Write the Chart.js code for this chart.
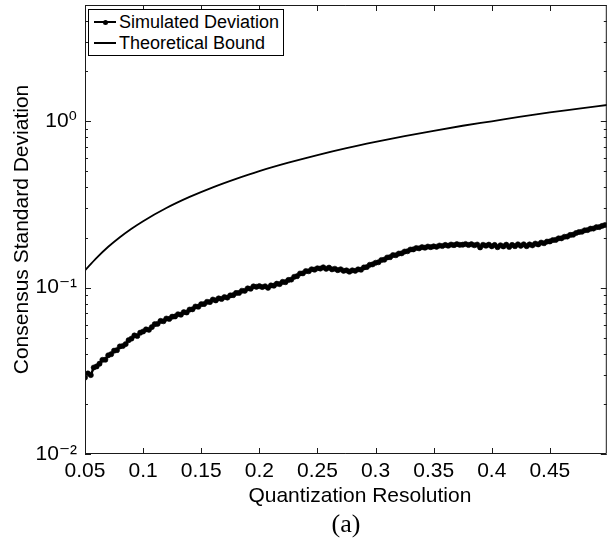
<!DOCTYPE html>
<html>
<head>
<meta charset="utf-8">
<script src="https://cdn.jsdelivr.net/npm/chart.js@4/dist/chart.umd.min.js"></script>
<style>
html,body{margin:0;padding:0;background:#fff;}
#wrap{position:relative;width:610px;height:548px;}
#legend{position:absolute;left:88px;top:9px;width:194px;height:45px;border:1px solid #000;background:#fff;font-family:'Liberation Sans',Arial,sans-serif;font-size:18px;color:#000;}
.item{position:absolute;left:0;width:194px;height:20px;}
.swatch{position:absolute;left:5px;width:22px;top:9px;height:0;border-top:2px solid #000;}
.dot{position:absolute;left:13.5px;top:7.5px;width:5px;height:5px;border-radius:50%;background:#000;}
.lbl{position:absolute;left:30px;top:0;line-height:20px;white-space:nowrap;}
</style>
</head>
<body>
<div id="wrap">
<canvas id="c" width="610" height="548"></canvas>
<div id="legend">
  <div class="item" style="top:2px"><div class="swatch"></div><div class="dot"></div><div class="lbl">Simulated Deviation</div></div>
  <div class="item" style="top:23.3px"><div class="swatch"></div><div class="lbl">Theoretical Bound</div></div>
</div>
</div>
<script>
// ---- data ----
const seriesNames = ['Simulated Deviation', 'Theoretical Bound'];
const simXStart = 0.05;
const simXStep = 0.0025;
const simValues = [
  0.0288, 0.0305, 0.0298, 0.0331, 0.0336, 0.0349, 0.0368, 0.0369, 0.0392, 0.0398,
  0.0418, 0.0421, 0.0443, 0.0446, 0.0458, 0.0483, 0.0494, 0.0516, 0.0512, 0.0536,
  0.0545, 0.0561, 0.0558, 0.0579, 0.0603, 0.0606, 0.0631, 0.0628, 0.0652, 0.0649,
  0.0669, 0.0671, 0.0692, 0.0688, 0.0712, 0.0709, 0.0738, 0.0741, 0.0770, 0.0768,
  0.0795, 0.0797, 0.0822, 0.0819, 0.0848, 0.0838, 0.0862, 0.0855, 0.0878, 0.0871,
  0.0898, 0.0901, 0.0929, 0.0930, 0.0958, 0.0957, 0.0990, 0.0985, 0.1018, 0.1011,
  0.1022, 0.1008, 0.1019, 0.0998, 0.1031, 0.1028, 0.1056, 0.1050, 0.1083, 0.1079,
  0.1112, 0.1118, 0.1162, 0.1172, 0.1216, 0.1219, 0.1258, 0.1255, 0.1290, 0.1283,
  0.1308, 0.1302, 0.1325, 0.1298, 0.1319, 0.1288, 0.1299, 0.1274, 0.1290, 0.1262,
  0.1270, 0.1248, 0.1271, 0.1262, 0.1288, 0.1282, 0.1322, 0.1330, 0.1372, 0.1380,
  0.1411, 0.1421, 0.1466, 0.1473, 0.1518, 0.1524, 0.1569, 0.1566, 0.1603, 0.1608,
  0.1648, 0.1655, 0.1695, 0.1698, 0.1731, 0.1722, 0.1751, 0.1739, 0.1766, 0.1752,
  0.1772, 0.1760, 0.1791, 0.1779, 0.1806, 0.1788, 0.1816, 0.1801, 0.1826, 0.1809,
  0.1812, 0.1830, 0.1805, 0.1824, 0.1798, 0.1816, 0.1745, 0.1809, 0.1788, 0.1813,
  0.1772, 0.1805, 0.1751, 0.1798, 0.1769, 0.1812, 0.1758, 0.1806, 0.1775, 0.1821,
  0.1785, 0.1822, 0.1776, 0.1818, 0.1795, 0.1840, 0.1819, 0.1866, 0.1849, 0.1892,
  0.1895, 0.1931, 0.1936, 0.1978, 0.1979, 0.2022, 0.2028, 0.2075, 0.2081, 0.2131,
  0.2158, 0.2168, 0.2212, 0.2219, 0.2262, 0.2266, 0.2308, 0.2312, 0.2352, 0.2380
];
const boundX = [0.05, 0.06, 0.07, 0.08, 0.09, 0.10, 0.12, 0.14, 0.16, 0.18, 0.20, 0.225, 0.25, 0.275, 0.30, 0.325, 0.35, 0.375, 0.40, 0.425, 0.45, 0.475, 0.50];
const boundY = [0.127, 0.151, 0.176, 0.201, 0.226, 0.251, 0.301, 0.351, 0.401, 0.451, 0.502, 0.564, 0.627, 0.690, 0.752, 0.815, 0.877, 0.940, 1.00, 1.065, 1.13, 1.19, 1.255];
const xTickValues = [0.05, 0.1, 0.15, 0.2, 0.25, 0.3, 0.35, 0.4, 0.45];
const xTickLabels = ['0.05', '0.1', '0.15', '0.2', '0.25', '0.3', '0.35', '0.4', '0.45'];
const yTickValues = [0.01, 0.1, 1];
const yTickLabels = ['10\u207B\u00B2', '10\u207B\u00B9', '10\u2070'];
const yMinorTicks = [0.02, 0.03, 0.04, 0.05, 0.06, 0.07, 0.08, 0.09, 0.2, 0.3, 0.4, 0.5, 0.6, 0.7, 0.8, 0.9, 2, 3, 4, 5];
const xTitle = 'Quantization Resolution';
const yTitle = 'Consensus Standard Deviation';
const caption = '(a)';

// ---- build ----
const simPoints = simValues.map((v, i) => ({ x: +(simXStart + i * simXStep).toFixed(4), y: v }));
const boundPoints = boundX.map((x, i) => ({ x: x, y: boundY[i] }));
const SANS = "'Liberation Sans', Arial, 'DejaVu Sans', sans-serif";

const framePlugin = {
  id: 'frame',
  afterDatasetsDraw(chart) {
    const { ctx, chartArea, scales } = chart;
    const { left, right, top, bottom } = chartArea;
    const xs = scales.x, ys = scales.y;
    ctx.save();
    ctx.strokeStyle = '#1a1a1a';
    ctx.lineWidth = 1;
    ctx.beginPath();
    ctx.rect(left + 0.5, top + 0.5, right - left - 1, bottom - top - 1);
    ctx.stroke();
    ctx.beginPath();
    xTickValues.forEach(v => {
      const px = Math.round(xs.getPixelForValue(v)) + 0.5;
      ctx.moveTo(px, bottom); ctx.lineTo(px, bottom - 6);
      ctx.moveTo(px, top); ctx.lineTo(px, top + 6);
    });
    yTickValues.forEach(v => {
      const py = Math.round(ys.getPixelForValue(v)) + 0.5;
      ctx.moveTo(left, py); ctx.lineTo(left + 6, py);
      ctx.moveTo(right, py); ctx.lineTo(right - 6, py);
    });
    yMinorTicks.forEach(v => {
      const py = Math.round(ys.getPixelForValue(v)) + 0.5;
      ctx.moveTo(left, py); ctx.lineTo(left + 3, py);
      ctx.moveTo(right, py); ctx.lineTo(right - 3, py);
    });
    ctx.stroke();
    ctx.restore();
  }
};

function labelFor(values, labels, v) {
  for (let i = 0; i < values.length; i++) {
    if (Math.abs(values[i] - v) / values[i] < 1e-6) return labels[i];
  }
  return '';
}

new Chart(document.getElementById('c'), {
  type: 'line',
  data: {
    datasets: [
      {
        label: seriesNames[0],
        data: simPoints,
        borderColor: '#000',
        backgroundColor: '#000',
        borderWidth: 2.4,
        pointRadius: 2.6,
        pointBorderWidth: 0.6,
        pointBackgroundColor: '#000',
        pointBorderColor: '#000',
        pointHoverRadius: 0
      },
      {
        label: seriesNames[1],
        data: boundPoints,
        borderColor: '#000',
        backgroundColor: '#000',
        borderWidth: 1.8,
        pointRadius: 0,
        cubicInterpolationMode: 'monotone'
      }
    ]
  },
  options: {
    responsive: false,
    animation: false,
    devicePixelRatio: 1,
    events: [],
    layout: { padding: { top: 5, right: 1, left: 0, bottom: 0 } },
    plugins: {
      legend: { display: false },
      tooltip: { enabled: false },
      title: {
        display: true,
        position: 'bottom',
        text: caption,
        fullSize: false,
        color: '#000',
        font: { family: "'Liberation Serif', 'Times New Roman', serif", size: 26, weight: 'normal', lineHeight: 1.2 },
        padding: { top: 0, bottom: 7 }
      }
    },
    scales: {
      x: {
        type: 'linear',
        min: 0.05,
        max: 0.499,
        grid: { display: false, drawTicks: false },
        border: { display: false },
        afterBuildTicks: (s) => { s.ticks = xTickValues.map(v => ({ value: v })); },
        afterFit: (s) => {
          s.height = 55.8;
          s.paddingLeft = 0; s.paddingRight = 0;
          if (!s._shiftedTitle) {
            const orig = s.drawTitle;
            s.drawTitle = function () {
              const ctx = this.ctx;
              ctx.save(); ctx.translate(14, 0); orig.apply(this, arguments); ctx.restore();
            };
            s._shiftedTitle = true;
          }
        },
        ticks: {
          autoSkip: false,
          maxRotation: 0,
          padding: 5,
          color: '#000',
          font: { family: SANS, size: 21, lineHeight: 1.2 },
          callback: (v) => labelFor(xTickValues, xTickLabels, v)
        },
        title: {
          display: true,
          text: xTitle,
          color: '#000',
          font: { family: SANS, size: 21, lineHeight: 1.2 },
          padding: { top: 0, bottom: 1 }
        }
      },
      y: {
        type: 'logarithmic',
        min: 0.01,
        max: 5,
        grid: { display: false, drawTicks: false },
        border: { display: false },
        afterBuildTicks: (s) => { s.ticks = yTickValues.map(v => ({ value: v })); },
        afterFit: (s) => { s.width = 85; s.paddingTop = 0; s.paddingBottom = 0; },
        ticks: {
          autoSkip: false,
          padding: 8,
          color: '#000',
          font: { family: SANS, size: 21, lineHeight: 1.2 },
          callback: (v) => labelFor(yTickValues, yTickLabels, v)
        },
        title: {
          display: true,
          text: yTitle,
          color: '#000',
          font: { family: SANS, size: 21, lineHeight: 1.2 },
          padding: { top: 10, bottom: 0 }
        }
      }
    }
  },
  plugins: [framePlugin]
});
</script>
</body>
</html>
